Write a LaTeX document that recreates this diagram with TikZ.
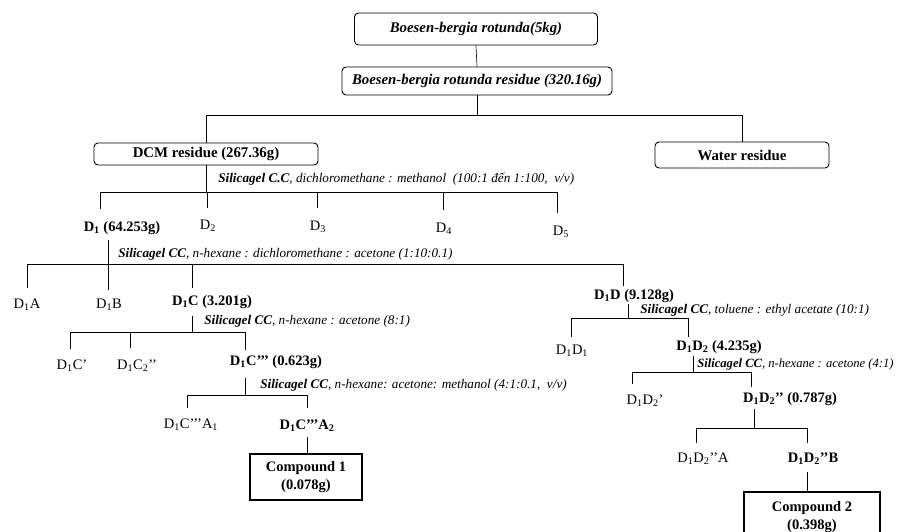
\documentclass[tikz,border=0pt]{standalone}
\usepackage{fontspec}
\setmainfont{Liberation Serif}
\begin{document}
\begin{tikzpicture}[x=1pt, y=-1pt, line width=.6pt,
    rbox/.style={draw, rounded corners=4pt, line width=.9pt, inner sep=0pt, font=\fontsize{14.8}{16}\selectfont\bfseries},
    cbox/.style={draw, line width=1.2pt, inner sep=0pt, align=center, font=\fontsize{14.5}{18}\selectfont\bfseries},
    frac/.style={inner sep=1pt, font=\fontsize{14.5}{16}\selectfont},
    main/.style={inner sep=1pt, font=\fontsize{14.5}{16}\selectfont\bfseries},
    cond/.style={anchor=west, inner sep=0pt, font=\fontsize{13.2}{15}\selectfont\itshape}]
  \clip (0,0) rectangle (902,532);
  \def\si{\textbf{Silicagel CC}, }

  % extraction
  \node [rbox, minimum width=243, minimum height=32] (raw) at (476,29) {\itshape Boesen-bergia rotunda(5kg)};
  \node [rbox, minimum width=270, minimum height=28] (res) at (477,81) {\itshape Boesen-bergia rotunda residue (320.16g)};
  \node [rbox, minimum width=224, minimum height=22] (dcm) at (206,154) {DCM residue (267.36g)};
  \node [rbox, minimum width=174, minimum height=26] (water) at (742,155) {Water residue};
  \coordinate (bar0) at (0,115);
  \draw (raw.south) -- (res.north);
  \draw (res.south) -- (res.south |- bar0);
  \draw (dcm.north) -- (dcm.north |- bar0) -| (water.north);

  % DCM residue
  \node [cond] (c1) at (218,179) {\textbf{Silicagel C.C}, dichloromethane : methanol~ (100:1 đến 1:100,~ v/v)};
  \node [main] (d1) at (122,228) {D\textsubscript{1} (64.253g)};
  \node [frac] (d2) at (208,226) {D\textsubscript{2}};
  \node [frac] (d3) at (318,227) {D\textsubscript{3}};
  \node [frac] (d4) at (444,229) {D\textsubscript{4}};
  \node [frac] (d5) at (561,232) {D\textsubscript{5}};
  \coordinate (bar1) at (0,192);
  \draw (dcm.south) -- (dcm.south |- bar1);
  \draw (100,192) -- (557,192);
  \foreach \x/\y in {100/209, 207/208, 317/208, 443/210, 557/213}
    \draw (\x,192) -- (\x,\y);

  % D1
  \node [cond] (c2) at (118,254) {\si n-hexane : dichloromethane : acetone (1:10:0.1)};
  \node [frac] (d1a) at (27,305) {D\textsubscript{1}A};
  \node [frac] (d1b) at (109,305) {D\textsubscript{1}B};
  \node [main] (d1c) at (212,302) {D\textsubscript{1}C (3.201g)};
  \node [main] (d1d) at (634,296) {D\textsubscript{1}D (9.128g)};
  \draw (108,240) -- (108,264);
  \draw (27,264) -- (623,264);
  \foreach \x/\y in {27/288, 108/290, 192/288, 623/286}
    \draw (\x,264) -- (\x,\y);

  % D1C
  \node [cond] (c3) at (204,321) {\si n-hexane : acetone (8:1)};
  \node [frac] (d1c1) at (72,366) {D\textsubscript{1}C’};
  \node [frac] (d1c2) at (137,366) {D\textsubscript{1}C\textsubscript{2}’’};
  \node [main] (d1c3) at (276,362) {D\textsubscript{1}C’’’ (0.623g)};
  \draw (192,316) -- (192,332);
  \draw (70,332) -- (245,332);
  \foreach \x/\y in {70/349, 130/348, 245/350}
    \draw (\x,332) -- (\x,\y);

  % D1C'''
  \node [cond] (c4) at (260,385) {\si n-hexane: acetone: methanol (4:1:0.1,~ v/v)};
  \node [frac] (a1) at (191,425) {D\textsubscript{1}C’’’A\textsubscript{1}};
  \node [main] (a2) at (307,426) {D\textsubscript{1}C’’’A\textsubscript{2}};
  \node [cbox, minimum width=112, minimum height=46] (cp1) at (306,477) {Compound 1\\(0.078g)};
  \draw (245,378) -- (245,395);
  \draw (187,395) -- (307,395);
  \foreach \x in {187, 307}
    \draw (\x,395) -- (\x,408);
  \draw (cp1.north -| a2) -- ++(0,-16);

  % D1D
  \node [cond] (c5) at (640,310) {\si toluene : ethyl acetate (10:1)};
  \node [frac] (d1d1) at (572,351) {D\textsubscript{1}D\textsubscript{1}};
  \node [main] (d1d2) at (719,347) {D\textsubscript{1}D\textsubscript{2} (4.235g)};
  \draw (628,304) -- (628,318);
  \draw (571,318) -- (688,318);
  \foreach \x in {571, 688}
    \draw (\x,318) -- (\x,337);

  % D1D2
  \node [cond, font=\fontsize{12.6}{15}\selectfont\itshape] (c6) at (697,364) {\si n-hexane : acetone (4:1)};
  \node [frac] (e1) at (645,401) {D\textsubscript{1}D\textsubscript{2}’};
  \node [main] (e2) at (790,399) {D\textsubscript{1}D\textsubscript{2}’’ (0.787g)};
  \draw (693,356) -- (693,372);
  \draw (632,372) -- (751,372);
  \foreach \x/\y in {632/384, 751/387}
    \draw (\x,372) -- (\x,\y);

  % D1D2''
  \node [frac] (f1) at (703,459) {D\textsubscript{1}D\textsubscript{2}’’A};
  \node [main] (f2) at (813,459) {D\textsubscript{1}D\textsubscript{2}’’B};
  \node [cbox, minimum width=136, minimum height=50] (cp2) at (812,517) {Compound 2\\(0.398g)};
  \draw (754,409) -- (754,428);
  \draw (696,428) -- (807,428);
  \foreach \x in {696, 807}
    \draw (\x,428) -- (\x,443);
  \draw (807,472) -- (cp2.north -| 807,0);
\end{tikzpicture}
\end{document}
